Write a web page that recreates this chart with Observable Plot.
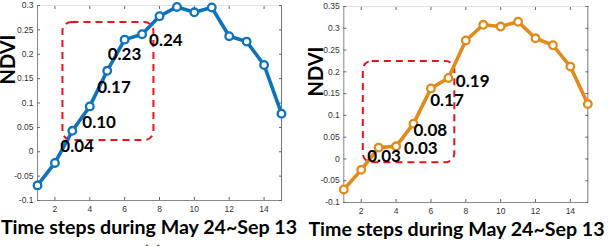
<!DOCTYPE html>
<html><head><meta charset="utf-8">
<script src="https://cdn.jsdelivr.net/npm/d3@7"></script>
<script src="https://cdn.jsdelivr.net/npm/@observablehq/plot@0.6"></script>
<style>
body{margin:0;background:#fff}
#wrap{display:flex;width:608px;height:246px;overflow:hidden}
#wrap svg{overflow:visible}
</style></head><body><div id="wrap"></div>
<script>
// ---- data ----
const steps = [1,2,3,4,5,6,7,8,9,10,11,12,13,14,15];
const ndviA = [-0.069,-0.023,0.043,0.093,0.166,0.230,0.241,0.278,0.297,0.286,0.296,0.237,0.226,0.178,0.078];
const ndviB = [-0.070,-0.025,0.026,0.029,0.081,0.162,0.186,0.272,0.308,0.304,0.315,0.277,0.261,0.212,0.126];
const labelStepsA = [3,4,5,6,7];
const labelTextA = ["0.04","0.10","0.17","0.23","0.24"];
const labelStepsB = [3,4,5,6,7];
const labelTextB = ["0.03","0.03","0.08","0.17","0.19"];
const xTicks = [2,4,6,8,10,12,14];
const yTicksA = [-0.1,-0.05,0,0.05,0.1,0.15,0.2,0.25,0.3];
const yTicksB = [-0.1,-0.05,0,0.05,0.1,0.15,0.2,0.25,0.3,0.35];
const boxA = {x1:2.46, x2:7.68, y1:0.023, y2:0.265};
const boxB = {x1:2.12, x2:7.37, y1:-0.009, y2:0.224};
const xTitle = "Time steps during May 24~Sep 13";
const yTitle = "NDVI";

function panel(o) {
  const pts = steps.map((s,i)=>({x:s, y:o.values[i]}));
  const labs = o.labelSteps.map((s,i)=>({x:s, y:o.values[s-1], t:o.labelText[i], dx:o.off[i][0], dy:o.off[i][1]}));
  const fmt = d => String(+d.toFixed(2));
  const [ylo, yhi] = [o.yTicks[0], o.yTicks[o.yTicks.length-1]];
  return Plot.plot({
    width: 304, height: 246,
    marginLeft: o.m[0], marginRight: o.m[1], marginTop: o.m[2], marginBottom: o.m[3],
    style: {fontFamily: "Liberation Sans, Arial, sans-serif", background: "#fff"},
    x: {domain: [1,15], axis: null},
    y: {domain: [ylo, yhi], axis: null},
    marks: [
      Plot.ruleY([yhi], {stroke: "#e2e2e2", strokeWidth: 1}),
      Plot.ruleX([15], {stroke: "#777", strokeWidth: 1}),
      Plot.ruleX([1], {stroke: "#888", strokeWidth: 1}),
      Plot.ruleY([ylo], {stroke: "#888", strokeWidth: 1}),
      Plot.axisY(o.yTicks, {anchor: "left", tickSize: -3, tickPadding: 7, tickFormat: fmt, fontSize: 8.5, fill: "#333", stroke: "#666", label: null}),
      Plot.axisY(o.yTicks, {anchor: "right", tickSize: -3, tickFormat: () => "", stroke: "#666", label: null}),
      Plot.axisX(xTicks, {anchor: "bottom", tickSize: -3, tickPadding: 8, fontSize: 8.5, fill: "#333", stroke: "#666", label: null}),
      Plot.axisX(xTicks, {anchor: "top", tickSize: -3, tickFormat: () => "", stroke: "#666", label: null}),
      Plot.rect([o.box], {x1:"x1", x2:"x2", y1:"y1", y2:"y2", rx: 9, fill: "none", stroke: "#e8141b", strokeWidth: 2, strokeDasharray: "7,5"}),
      Plot.line(pts, {x:"x", y:"y", stroke: o.color, strokeWidth: 3.6}),
      Plot.dot(pts, {x:"x", y:"y", r: 3.8, stroke: o.color, strokeWidth: 2.3, fill: "#fff"}),
      ...labs.map(l => Plot.text([l], {x:"x", y:"y", text:"t", dx:l.dx, dy:l.dy, textAnchor:"start", lineAnchor:"middle", fontSize: 17, fontWeight: "bold", fontFamily: "Lato, sans-serif", fill: "#000"})),
      Plot.text([xTitle], {frameAnchor: "bottom", dx: o.tdx, dy: 27, lineAnchor: "middle", fontSize: 19.6, fontWeight: "bold", fontFamily: "Lato, sans-serif", fill: "#000"}),
      Plot.text([yTitle], {frameAnchor: "left", rotate: -90, dx: o.ydx, dy: o.ydy, lineAnchor: "middle", fontSize: 20, fontWeight: "bold", fontFamily: "Lato, sans-serif", fill: "#000"}),
      Plot.text([o.tag], {frameAnchor: "bottom", dx: o.tagdx, dy: 45, lineAnchor: "top", fontSize: 18, fontFamily: "Lato, sans-serif", fill: "#000"})
    ]
  });
}

const wrap = document.getElementById("wrap");
wrap.append(panel({
  values: ndviA, labelSteps: labelStepsA, labelText: labelTextA, yTicks: yTicksA, box: boxA,
  color: "#0f72bd", m: [37, 23, 5, 46],
  off: [[-12,16],[-7.5,16],[-10,17],[-17,15],[7,6]],
  tdx: -10.5, ydx: -28.5, ydy: -18.5, tag: "(a)", tagdx: -7
}));
wrap.append(panel({
  values: ndviB, labelSteps: labelStepsB, labelText: labelTextB, yTicks: yTicksB, box: boxB,
  color: "#e38a1c", m: [39.3, 20.7, 6, 44],
  off: [[-11.4,8.7],[8,2],[0,7],[-0.8,12.3],[7.5,3.7]],
  tdx: -9.3, ydx: -27.2, ydy: -8, tag: "(b)", tagdx: -10
}));
</script></body></html>
